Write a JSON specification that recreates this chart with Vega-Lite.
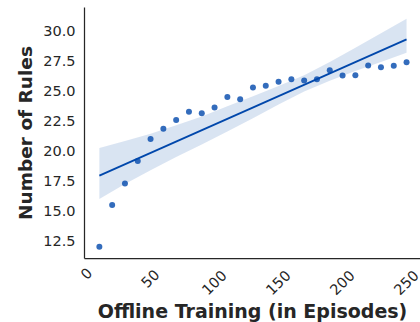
{
  "$schema": "https://vega.github.io/schema/vega-lite/v6.json",
  "width": 336,
  "height": 251,
  "autosize": {"type": "none"},
  "padding": {"left": 84, "top": 7, "right": 0, "bottom": 64},
  "background": "white",
  "config": {
    "view": {"stroke": null},
    "axis": {
      "grid": false,
      "ticks": false,
      "tickSize": 0,
      "labelOverlap": false,
      "domainColor": "#262626",
      "domainWidth": 1.25,
      "labelColor": "#262626",
      "labelFont": "DejaVu Sans",
      "labelFontSize": 14.5,
      "titleColor": "#262626",
      "titleFont": "DejaVu Sans",
      "titleFontSize": 18.5,
      "titleFontWeight": "bold"
    }
  },
  "datasets": {
    "pts": [
      {"episodes": 10, "rules": 12.03},
      {"episodes": 20, "rules": 15.53},
      {"episodes": 30, "rules": 17.31},
      {"episodes": 40, "rules": 19.19},
      {"episodes": 50, "rules": 21.03},
      {"episodes": 60, "rules": 21.89},
      {"episodes": 70, "rules": 22.61},
      {"episodes": 80, "rules": 23.31},
      {"episodes": 90, "rules": 23.19},
      {"episodes": 100, "rules": 23.67},
      {"episodes": 110, "rules": 24.53},
      {"episodes": 120, "rules": 24.36},
      {"episodes": 130, "rules": 25.33},
      {"episodes": 140, "rules": 25.47},
      {"episodes": 150, "rules": 25.81},
      {"episodes": 160, "rules": 26.03},
      {"episodes": 170, "rules": 25.92},
      {"episodes": 180, "rules": 26.03},
      {"episodes": 190, "rules": 26.78},
      {"episodes": 200, "rules": 26.33},
      {"episodes": 210, "rules": 26.36},
      {"episodes": 220, "rules": 27.17},
      {"episodes": 230, "rules": 27.03},
      {"episodes": 240, "rules": 27.14},
      {"episodes": 250, "rules": 27.44}
    ],
    "band": [
      {"episodes": 10, "lo": 16.03, "hi": 20.28},
      {"episodes": 30, "lo": 17.27, "hi": 20.87},
      {"episodes": 50, "lo": 18.42, "hi": 21.47},
      {"episodes": 70, "lo": 19.52, "hi": 22.17},
      {"episodes": 90, "lo": 20.57, "hi": 22.92},
      {"episodes": 110, "lo": 21.66, "hi": 23.76},
      {"episodes": 130, "lo": 22.76, "hi": 24.61},
      {"episodes": 150, "lo": 23.91, "hi": 25.46},
      {"episodes": 170, "lo": 25.0, "hi": 26.35},
      {"episodes": 190, "lo": 25.9, "hi": 27.45},
      {"episodes": 210, "lo": 26.7, "hi": 28.65},
      {"episodes": 230, "lo": 27.45, "hi": 29.85},
      {"episodes": 250, "lo": 28.23, "hi": 31.07}
    ]
  },
  "encoding": {
    "x": {
      "field": "episodes", "type": "quantitative",
      "scale": {"domain": [-2, 260.5], "nice": false, "zero": false},
      "axis": {
        "values": [0, 50, 100, 150, 200, 250],
        "title": "Offline Training (in Episodes)",
        "titleFontSize": 19,
        "labelAngle": -45,
        "labelAlign": "center",
        "labelBaseline": "middle",
        "labelOverlap": false,
        "labelPadding": {"condition": [{"test": "datum.value < 10", "value": 16}, {"test": "datum.value < 100", "value": 21}], "value": 25},
        "titlePadding": 5
      }
    },
    "y": {
      "field": "rules", "type": "quantitative",
      "scale": {"domain": [11.1, 32.05], "nice": false, "zero": false},
      "axis": {
        "values": [12.5, 15.0, 17.5, 20.0, 22.5, 25.0, 27.5, 30.0],
        "labelExpr": "format(datum.value, '.1f')",
        "title": "Number of Rules",
        "labelOverlap": false,
        "labelFlush": false,
        "labelPadding": 9,
        "titlePadding": 7
      }
    }
  },
  "layer": [
    {
      "data": {"name": "band"},
      "mark": {"type": "area", "color": "#0047AB", "opacity": 0.15},
      "encoding": {
        "y": {"field": "lo", "type": "quantitative"},
        "y2": {"field": "hi"}
      }
    },
    {
      "data": {"name": "pts"},
      "transform": [{"regression": "rules", "on": "episodes"}],
      "mark": {"type": "line", "color": "#0047AB", "strokeWidth": 1.8}
    },
    {
      "data": {"name": "pts"},
      "mark": {"type": "circle", "color": "#0047AB", "opacity": 0.8, "size": 36}
    }
  ]
}
